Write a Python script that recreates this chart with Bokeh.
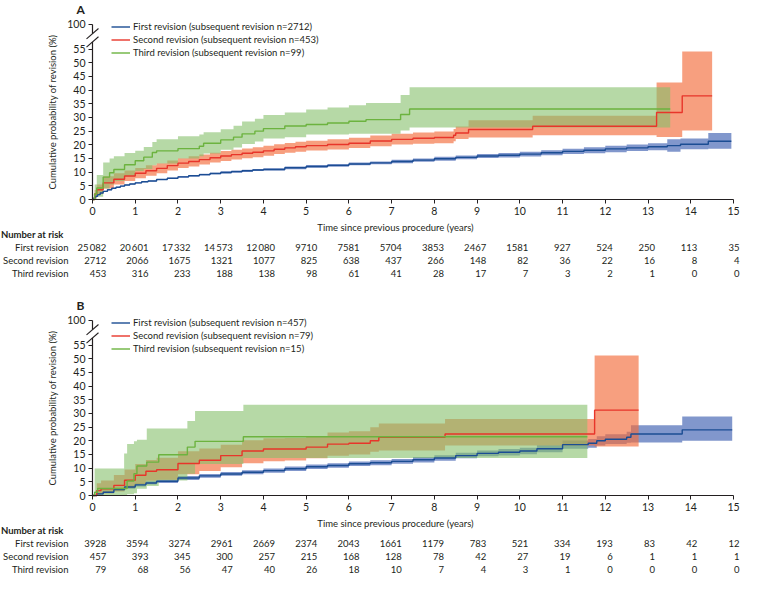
from bokeh.plotting import figure
from bokeh.models import Range1d, FixedTicker, Legend, LegendItem, Arrow
from bokeh.layouts import column
from bokeh.embed import file_html
from bokeh.resources import INLINE
from bokeh.core.properties import value

# ------------------------------------------------------------------ data
risk_years = list(range(0, 16))
x_ticks = list(range(0, 16))
y_ticks = [0, 5, 10, 15, 20, 25, 30, 35, 40, 45, 50, 55]
row_names = ["First revision", "Second revision", "Third revision"]

# ---- Panel A
a_labels = ["First revision (subsequent revision n=2712)",
            "Second revision (subsequent revision n=453)",
            "Third revision (subsequent revision n=99)"]

a_first_t = [0, 0.03, 0.07, 0.12, 0.18, 0.25, 0.35, 0.45, 0.55, 0.65, 0.75, 0.87, 1.0, 1.15, 1.3, 1.5,
             1.75, 2.0, 2.25, 2.5, 2.75, 3.0, 3.25, 3.5, 3.75, 4.0, 4.5, 5, 5.5, 6, 6.5,
             7, 7.5, 8, 8.5, 9, 9.5, 10, 10.5, 11, 11.5, 12, 12.5, 13, 13.45, 13.76, 14.41, 14.95]
a_first_v = [0, 0.6, 1.2, 1.8, 2.4, 3.0, 3.6, 4.1, 4.5, 4.9, 5.3, 5.7, 6.1, 6.5, 6.8, 7.3,
             7.8, 8.3, 8.7, 9.1, 9.5, 9.9, 10.2, 10.5, 10.8, 11.0, 11.6, 12.1, 12.5, 13.0, 13.4,
             13.9, 14.4, 14.9, 15.4, 15.9, 16.2, 16.6, 17.1, 17.6, 18.0, 18.5, 18.9, 19.3, 19.7, 20.2, 21.3, 21.3]
a_first_hi = [0, 0.8, 1.4, 2.0, 2.6, 3.2, 3.8, 4.3, 4.7, 5.1, 5.5, 5.9, 6.3, 6.7, 7.0, 7.5,
              8.0, 8.6, 9.0, 9.4, 9.8, 10.3, 10.6, 10.9, 11.2, 11.4, 12.1, 12.6, 13.0, 13.5, 13.9,
              14.5, 15.0, 15.6, 16.1, 16.6, 17.0, 17.5, 18.0, 18.6, 19.1, 19.7, 20.1, 20.6, 22.0, 22.3, 24.3, 24.3]
a_first_lo = [0, 0.4, 1.0, 1.6, 2.2, 2.8, 3.4, 3.9, 4.3, 4.7, 5.1, 5.5, 5.9, 6.3, 6.6, 7.1,
              7.6, 8.0, 8.4, 8.8, 9.2, 9.5, 9.8, 10.1, 10.4, 10.6, 11.1, 11.6, 12.0, 12.5, 12.9,
              13.3, 13.8, 14.2, 14.7, 15.2, 15.4, 15.7, 16.2, 16.6, 16.9, 17.3, 17.7, 18.0, 17.5, 18.4, 18.6, 18.6]

a_second_t = [0, 0.05, 0.1, 0.25, 0.5, 0.75, 1, 1.25, 1.5, 1.75, 2, 2.25, 2.5, 2.75, 3, 3.25, 3.5, 3.75,
              4, 4.25, 4.5, 4.75, 5, 5.5, 6, 6.5, 7, 7.5, 8, 8.45, 8.5, 8.8, 10.3, 13.2, 13.8, 14.5]
a_second_v = [0, 2.0, 3.6, 6.1, 7.4, 8.6, 9.6, 10.5, 11.4, 12.4, 13.3, 13.9, 14.6, 15.3, 15.9, 16.4, 16.9, 17.3,
              17.8, 18.4, 18.9, 19.3, 19.7, 20.1, 20.6, 21.4, 22.0, 22.4, 22.7, 23.5, 24.3, 25.6, 26.8, 31.8, 37.9, 37.9]
a_second_hi = [0, 3.5, 5.5, 8.5, 9.6, 10.6, 11.5, 12.5, 13.3, 14.3, 15.1, 15.8, 16.5, 17.1, 17.7, 18.2, 18.7, 19.1,
               19.7, 20.2, 20.7, 21.1, 21.5, 22.0, 22.6, 23.4, 24.0, 24.5, 24.9, 25.8, 26.7, 29.0, 30.6, 42.8, 54.1, 54.1]
a_second_lo = [0, 0.8, 2.0, 4.0, 5.5, 6.8, 7.8, 8.7, 9.6, 10.6, 11.5, 12.1, 12.8, 13.5, 14.1, 14.6, 15.1, 15.5,
               16.0, 16.6, 17.1, 17.5, 17.9, 18.3, 18.8, 19.5, 20.1, 20.4, 20.6, 21.3, 22.1, 22.7, 23.5, 22.9, 25.2, 25.2]

a_third_t = [0, 0.05, 0.1, 0.25, 0.4, 0.5, 0.75, 1, 1.2, 1.4, 1.5, 2, 2.5, 2.6, 3, 3.3, 3.5, 3.8,
             4, 4.5, 5, 5.5, 6, 6.4, 7.21, 7.42, 13.52]
a_third_v = [0, 2.0, 4.2, 8.2, 9.8, 11.0, 12.7, 14.2, 15.5, 17.2, 17.8, 18.6, 19.5, 20.6, 21.8, 22.8, 24.0, 25.0,
             25.9, 26.9, 27.4, 28.0, 28.6, 29.2, 31.1, 33.1, 33.1]
a_third_hi = [0, 5.5, 9.0, 13.5, 15.0, 15.8, 17.0, 17.8, 19.2, 21.0, 22.0, 23.1, 23.8, 24.6, 25.7, 27.0, 28.5, 29.5,
              30.9, 31.8, 32.9, 33.6, 34.5, 35.3, 38.2, 41.0, 41.0]
a_third_lo = [0, 0.3, 1.0, 4.0, 5.5, 6.8, 8.5, 10.4, 11.2, 12.5, 13.2, 15.0, 15.8, 16.8, 18.2, 19.0, 20.3, 21.2,
              22.3, 22.8, 23.8, 23.8, 24.0, 24.0, 25.2, 26.3, 26.3]

a_risk_first = [25082, 20601, 17332, 14573, 12080, 9710, 7581, 5704, 3853, 2467, 1581, 927, 524, 250, 113, 35]
a_risk_second = [2712, 2066, 1675, 1321, 1077, 825, 638, 437, 266, 148, 82, 36, 22, 16, 8, 4]
a_risk_third = [453, 316, 233, 188, 138, 98, 61, 41, 28, 17, 7, 3, 2, 1, 0, 0]

# ---- Panel B
b_labels = ["First revision (subsequent revision n=457)",
            "Second revision (subsequent revision n=79)",
            "Third revision (subsequent revision n=15)"]

b_first_t = [0, 0.1, 0.25, 0.5, 0.75, 1, 1.25, 1.5, 2, 2.5, 3, 3.5, 4, 4.5, 5, 5.5, 6, 6.5, 7, 7.5, 8, 8.5,
             9, 9.5, 10, 10.4, 11, 11.6, 11.8, 12, 12.5, 12.6, 13.8, 14.97]
b_first_v = [0, 0.6, 1.2, 2.2, 3.1, 3.9, 4.6, 5.2, 6.4, 7.2, 7.9, 8.5, 9.1, 9.8, 10.5, 11.0, 11.6, 12.0, 12.5, 13.1,
             13.7, 14.6, 15.4, 15.8, 16.3, 17.1, 18.6, 19.1, 20.0, 20.6, 21.3, 22.5, 24.0, 24.0]
b_first_hi = [0, 1.0, 1.7, 2.7, 3.7, 4.5, 5.2, 5.8, 7.1, 7.9, 8.6, 9.2, 9.9, 10.6, 11.3, 11.8, 12.4, 12.9, 13.4, 14.1,
              14.7, 15.6, 16.5, 17.0, 17.5, 18.4, 20.1, 20.7, 21.7, 22.4, 23.3, 25.7, 28.9, 28.9]
b_first_lo = [0, 0.3, 0.8, 1.7, 2.5, 3.3, 4.0, 4.6, 5.7, 6.5, 7.2, 7.8, 8.3, 9.0, 9.7, 10.2, 10.8, 11.1, 11.6, 12.1,
              12.7, 13.6, 14.4, 14.6, 15.1, 15.8, 17.1, 17.5, 18.3, 18.8, 19.3, 19.4, 20.0, 20.0]

b_second_t = [0, 0.1, 0.2, 0.5, 0.75, 1.0, 1.25, 1.5, 2.0, 2.5, 3.0, 3.5, 4.0, 4.5, 5.0, 5.5, 6.0, 6.5,
              6.7, 8.25, 11.75, 12.78]
b_second_v = [0, 1.8, 2.5, 3.7, 5.6, 7.4, 8.9, 9.4, 11.7, 12.9, 14.6, 16.3, 17.0, 17.0, 17.7, 18.8, 19.1, 20.0,
              21.3, 22.5, 31.2, 31.2]
b_second_hi = [0, 4.5, 5.5, 7.5, 9.5, 11.5, 13.0, 13.8, 16.2, 17.2, 18.6, 20.2, 20.9, 21.0, 21.8, 23.0, 23.5, 25.0,
               26.3, 28.0, 51.2, 51.2]
b_second_lo = [0, 0.5, 0.8, 1.5, 2.8, 4.2, 5.4, 5.8, 7.8, 9.0, 10.3, 11.8, 12.5, 12.8, 13.6, 14.5, 15.0, 16.0,
               16.5, 18.3, 17.9, 17.9]

b_third_t = [0, 0.05, 0.12, 0.74, 0.81, 0.97, 1.04, 1.27, 1.55, 2.22, 2.4, 3.53, 11.58]
b_third_v = [0, 1.2, 2.6, 2.6, 5.3, 8.0, 10.8, 12.2, 14.9, 17.7, 19.8, 21.5, 21.5]
b_third_hi = [0, 9.9, 9.9, 15.4, 18.8, 19.8, 20.4, 24.5, 24.5, 27.2, 30.9, 33.2, 33.2]
b_third_lo = [0, 0.2, 0.2, 0.2, 0.5, 0.8, 2.5, 3.5, 5.5, 8.0, 11.5, 13.7, 13.7]

b_risk_first = [3928, 3594, 3274, 2961, 2669, 2374, 2043, 1661, 1179, 783, 521, 334, 193, 83, 42, 12]
b_risk_second = [457, 393, 345, 300, 257, 215, 168, 128, 78, 42, 27, 19, 6, 1, 1, 1]
b_risk_third = [79, 68, 56, 47, 40, 26, 18, 10, 7, 4, 3, 1, 0, 0, 0, 0]

# ------------------------------------------------------------------ style / layout
FONT = "Lato"
INK = "#231f20"
W = 741                 # figure width
H = 296                 # figure height (one panel)
TOP = 14                # title strip
AX_X = 92               # pixel column of the y axis
AX_R = 8                # space right of x = 15
ZERO_Y = 198            # pixel row of y = 0 (from figure top)
TICK100_Y = 21          # pixel row of the "100" tick
PPY = (W - AX_X - AX_R) / 15.0
PPU = (ZERO_Y - TICK100_Y) / 64.0
X0 = -AX_X / PPY
X1 = 15 + AX_R / PPY
Y1 = 64 + (TICK100_Y - TOP) / PPU
Y0 = -(H - ZERO_Y) / PPU
LINE_COLORS = ["#1b4d93", "#e8352a", "#6cb33f"]
FILL_COLORS = ["#3e5fb0", "#f26b3a", "#86c06a"]
FILL_ALPHAS = [0.65, 0.65, 0.6]
TXT = "9.5px"


def fmt(n):
    return f"{n:,}".replace(",", "\u2009") if n >= 10000 else str(n)


def put(p, xs, px_below, texts, align, bold=False):
    p.text(x=xs, y=[-px_below / PPU] * len(xs), text=texts, text_align=align,
           text_baseline="middle", text_font=value(FONT), text_font_size=TXT,
           text_font_style="bold" if bold else "normal", text_color=INK)


def km_panel(letter, curves, labels, risk_rows):
    p = figure(width=W, height=H, x_range=Range1d(X0, X1), y_range=Range1d(Y0, Y1),
               output_backend="svg", toolbar_location=None,
               min_border_left=0, min_border_right=0, min_border_top=TOP, min_border_bottom=0)
    p.outline_line_color = None
    p.xgrid.visible = False
    p.ygrid.visible = False

    p.title.text = letter
    p.title.text_font = FONT
    p.title.text_font_size = "12px"
    p.title.text_font_style = "bold"
    p.title.text_color = INK
    p.title.align = "left"
    p.title.vertical_align = "middle"
    p.title.offset = AX_X - 16
    p.title.standoff = 0

    xa, ya = p.xaxis[0], p.yaxis[0]
    for ax in (xa, ya):
        ax.fixed_location = 0
        ax.axis_line_color = INK
        ax.axis_line_width = 1.2
        ax.major_tick_line_color = INK
        ax.major_tick_out = 4
        ax.major_tick_in = 0
        ax.minor_tick_line_color = None
        ax.major_label_text_font = FONT
        ax.major_label_text_font_size = "10.5px"
        ax.major_label_text_color = INK
        ax.major_label_standoff = 3
    xa.ticker = FixedTicker(ticks=x_ticks)
    xa.bounds = (0, 15)
    ya.ticker = FixedTicker(ticks=y_ticks + [64])
    ya.major_label_overrides = {64: "100"}
    ya.bounds = (0, 64)
    ya.axis_label = "Cumulative probability of revision (%)"
    ya.axis_label_text_font = FONT
    ya.axis_label_text_font_size = TXT
    ya.axis_label_text_font_style = "normal"
    ya.axis_label_text_color = INK
    ya.axis_label_standoff = 6

    # confidence bands
    for (t, v, lo, hi), fc, fa in zip(curves, FILL_COLORS, FILL_ALPHAS):
        p.varea_step(x=t, y1=lo, y2=hi, step_mode="after", fill_color=fc, fill_alpha=fa)
    # curves
    lines = []
    for (t, v, lo, hi), lc in zip(curves, LINE_COLORS):
        lines.append(p.step(x=t, y=v, mode="after", line_color=lc, line_width=1.4))

    legend = Legend(items=[LegendItem(label=lab, renderers=[r]) for lab, r in zip(labels, lines)],
                    location=(AX_X + 19, H - 59))
    legend.background_fill_alpha = 0
    legend.border_line_color = None
    legend.padding = 0
    legend.spacing = 0
    legend.margin = 0
    legend.glyph_width = 19
    legend.glyph_height = 13
    legend.label_height = 13
    legend.label_standoff = 3
    legend.label_text_font = FONT
    legend.label_text_font_size = TXT
    legend.label_text_color = INK
    p.add_layout(legend)

    # broken-axis marks
    p.add_layout(Arrow(start=None, end=None, x_start=0, y_start=57.6, x_end=0, y_end=60.6,
                       line_color="white", line_width=4))
    for g in (57.6, 60.6):
        p.add_layout(Arrow(start=None, end=None, x_start=-0.14, y_start=g - 1.9,
                           x_end=0.14, y_end=g + 1.9, line_color=INK, line_width=1.1))

    # x-axis title and number-at-risk table (below the x axis)
    put(p, [7.09], 28.5, ["Time since previous procedure (years)"], "center")
    put(p, [X0 + 0.01], 35.5, ["Number at risk"], "left", bold=True)
    for name, counts, dy in zip(row_names, risk_rows, (48.5, 61.8, 75.0)):
        put(p, [-24 / PPY], dy, [name], "right")
        put(p, [0.32 + 0.988 * yr for yr in risk_years], dy, [fmt(c) for c in counts], "right")
    return p


pA = km_panel("A", [(a_first_t, a_first_v, a_first_lo, a_first_hi),
                    (a_second_t, a_second_v, a_second_lo, a_second_hi),
                    (a_third_t, a_third_v, a_third_lo, a_third_hi)], a_labels,
              [a_risk_first, a_risk_second, a_risk_third])
pB = km_panel("B", [(b_first_t, b_first_v, b_first_lo, b_first_hi),
                    (b_second_t, b_second_v, b_second_lo, b_second_hi),
                    (b_third_t, b_third_v, b_third_lo, b_third_hi)], b_labels,
              [b_risk_first, b_risk_second, b_risk_third])

layout = column(pA, pB, spacing=0)
open("out.html", "w").write(file_html(layout, INLINE))
